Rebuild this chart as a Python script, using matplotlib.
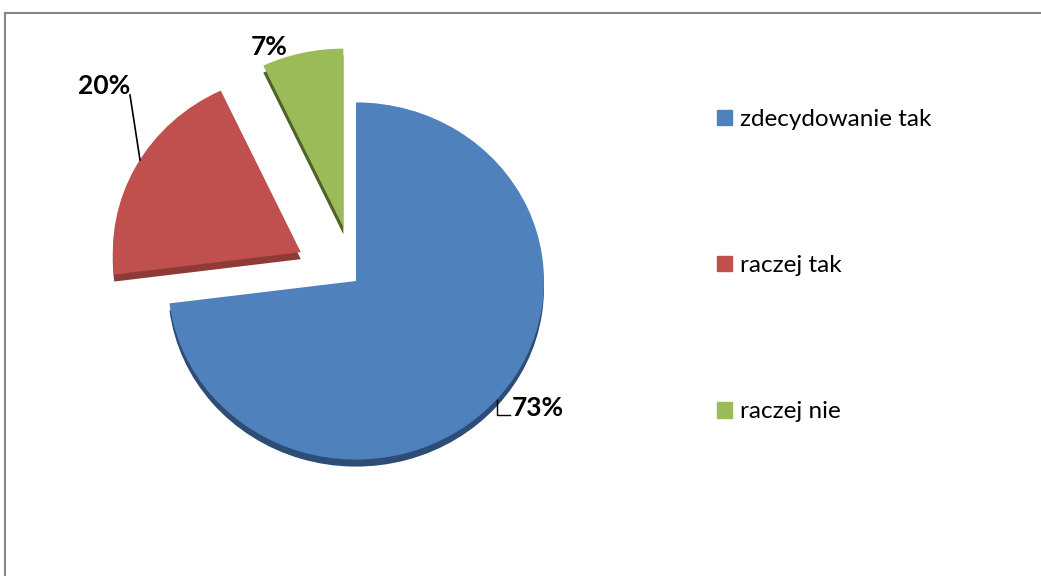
import matplotlib.pyplot as plt
from matplotlib.patches import Rectangle, Patch

# dane
labels = ["zdecydowanie tak", "raczej tak", "raczej nie"]
values = [73, 20, 7]
pct_labels = ["73%", "20%", "7%"]

colors = ["#4F81BD", "#C0504D", "#9BBB59"]
dark = ["#2C4D75", "#8E3A37", "#4F6228"]
explode = [0, 63, 58]

plt.rcParams['font.family'] = ['Lato', 'DejaVu Sans']

W, H = 1041, 576
sy = 0.95  # spłaszczenie (pochylenie 3D)


def py(p):
    # pozycja w pikselach od góry -> współrzędna danych
    return (H - p) / sy


fig = plt.figure(figsize=(W / 100, H / 100), dpi=100)
ax = fig.add_axes([0, 0, 1, 1])

cx, r, depth = 356, 188, 7
cy = py(281)

# boczna ściana (efekt 3D)
ax.pie(values, colors=dark, startangle=90, counterclock=False, radius=r,
       center=(cx, cy - depth / sy), explode=explode, frame=True,
       wedgeprops=dict(linewidth=0))
# wierzch
ax.pie(values, colors=colors, startangle=90, counterclock=False,
       radius=r, center=(cx, cy), explode=explode, frame=True,
       wedgeprops=dict(linewidth=0))

ax.set_xlim(0, W)
ax.set_ylim(0, H / sy)
ax.set_aspect('auto')
ax.axis('off')

# etykiety procentowe
ax.text(538, py(408), pct_labels[0], fontsize=19, fontweight='bold',
        ha='center', va='center')
ax.text(104, py(86), pct_labels[1], fontsize=19, fontweight='bold',
        ha='center', va='center')
ax.text(269, py(47), pct_labels[2], fontsize=19, fontweight='bold',
        ha='center', va='center')

# linie odniesienia
ax.plot([497, 497, 510], [py(400), py(415), py(415)], color='black', lw=1)
ax.plot([130, 140], [py(95), py(160)], color='black', lw=1.2)

# legenda
handles = [Patch(color=c) for c in colors]
ax.legend(handles, labels, loc='upper left',
          bbox_to_anchor=(717 / W, 1 - 109 / H),
          frameon=False, fontsize=17.5, labelspacing=5.15,
          borderpad=0, borderaxespad=0,
          handlelength=0.62, handleheight=0.62, handletextpad=0.33)

# ramka wykresu
fig.patches.append(Rectangle((5 / W, -0.1), 1.2, (563 / H) + 0.1,
                             transform=fig.transFigure, fill=False,
                             edgecolor='#868686', lw=1.5))

fig.savefig("out.png", dpi=100)
